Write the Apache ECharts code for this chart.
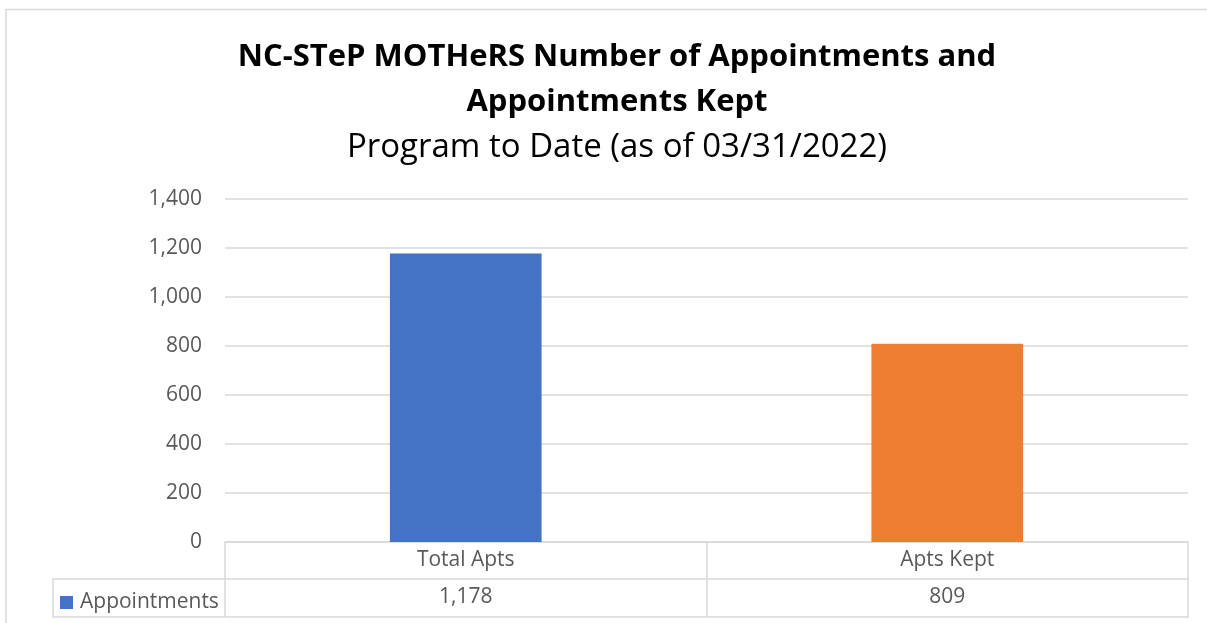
<!DOCTYPE html>
<html lang="en">
<head>
  <meta charset="UTF-8">
  <title>NC-STeP MOTHeRS Appointments</title>
  <script src="https://cdn.jsdelivr.net/npm/echarts@6/dist/echarts.min.js"></script>
  <style>
    html, body { margin: 0; padding: 0; background: #fff; }
    #main { width: 1207px; height: 623px; }
  </style>
</head>
<body>
  <div id="main"></div>
  <script type="text/javascript">
    // data
    var categories = ['Total Apts', 'Apts Kept'];
    var appointments = [1178, 809];
    var barColors = ['#4472C4', '#ED7D31'];
    var seriesName = 'Appointments';

    var font = 'Open Sans';
    var grey = '#595959';
    var lineGrey = '#d9d9d9';

    var chart = echarts.init(document.getElementById('main'));

    function fmt(v) { return v.toLocaleString('en-US'); }

    var option = {
      animation: false,
      textStyle: { fontFamily: font },
      title: [{
        text: 'NC-STeP MOTHeRS Number of Appointments and\nAppointments Kept',
        left: 612, top: 30, textAlign: 'center',
        textStyle: { fontSize: 31, fontWeight: 'bold', color: '#000', lineHeight: 45, fontFamily: font }
      }, {
        text: 'Program to Date (as of 03/31/2022)',
        left: 612, top: 126, textAlign: 'center',
        textStyle: { fontSize: 33, fontWeight: 'normal', color: '#000', fontFamily: font }
      }],
      legend: {
        left: 55, top: 587,
        itemWidth: 13, itemHeight: 13, itemGap: 6,
        icon: 'rect',
        textStyle: { fontSize: 21, color: grey, fontFamily: font, padding: [0, 0, 0, 2] },
        data: [seriesName]
      },
      grid: { left: 225, right: 19, top: 199, bottom: 81, containLabel: false },
      xAxis: [{
        type: 'category',
        data: categories,
        position: 'bottom',
        axisLine: { show: true, lineStyle: { color: lineGrey, width: 1.5 } },
        axisTick: { show: true, length: 75, lineStyle: { color: lineGrey, width: 1.5 } },
        axisLabel: { fontSize: 21, color: grey, margin: 8, fontFamily: font }
      }, {
        type: 'category',
        data: appointments.map(fmt),
        position: 'bottom',
        offset: 37,
        axisLine: { show: true, lineStyle: { color: lineGrey, width: 1.5 } },
        axisTick: { show: false },
        axisLabel: { fontSize: 21, color: grey, margin: 8, fontFamily: font }
      }, {
        type: 'category',
        data: categories,
        position: 'bottom',
        offset: 75,
        axisLine: { show: true, lineStyle: { color: lineGrey, width: 1.5 } },
        axisTick: { show: false },
        axisLabel: { show: false }
      }],
      yAxis: {
        type: 'value',
        min: 0, max: 1400, interval: 200,
        axisLine: { show: false },
        axisTick: { show: false },
        splitLine: { lineStyle: { color: lineGrey, width: 1.5 } },
        axisLabel: { fontSize: 21, color: grey, margin: 23, fontFamily: font, formatter: fmt }
      },
      series: [{
        name: seriesName,
        type: 'bar',
        barWidth: '31.5%',
        itemStyle: { color: barColors[0] },
        data: appointments.map(function (v, i) {
          return { value: v, itemStyle: { color: barColors[i] } };
        })
      }],
      graphic: [
        // chart border
        { type: 'rect', shape: { x: 6, y: 9.5, width: 1210, height: 620 },
          style: { fill: 'none', stroke: lineGrey, lineWidth: 1.5 }, silent: true },
        // left cell of the data table
        { type: 'polyline', shape: { points: [[225, 579], [53, 579], [53, 617], [225, 617]] },
          style: { fill: 'none', stroke: lineGrey, lineWidth: 1.5 }, silent: true }
      ]
    };

    chart.setOption(option);
  </script>
</body>
</html>
